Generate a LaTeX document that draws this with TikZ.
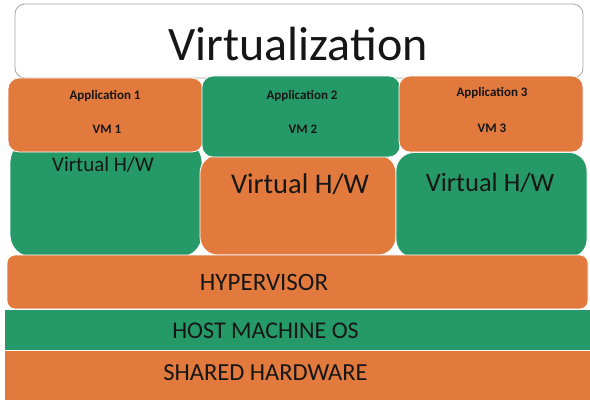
\documentclass[tikz,border=0pt]{standalone}
\usepackage{fontspec}
\setmainfont{Carlito}
\definecolor{vorange}{RGB}{226,122,62}
\definecolor{vgreen}{RGB}{38,153,104}
\definecolor{vtext}{RGB}{22,22,22}
\definecolor{vframe}{RGB}{165,165,165}
\begin{document}
\begin{tikzpicture}[x=1pt,y=-1pt,
  layer/.style={draw=white,line width=0.8pt,inner sep=0pt,outer sep=0pt},
  obox/.style={layer,fill=vorange},
  gbox/.style={layer,fill=vgreen},
  lbl/.style={text=vtext,inner sep=0pt,font=#1},
  lbl/.default=\fontsize{24}{28}\selectfont,
  small/.style={lbl=\fontsize{13}{15}\selectfont\bfseries}
]
\useasboundingbox (0,0) rectangle (590,400);
\fill[white] (0,0) rectangle (590,400);

% title banner
\node[draw=vframe,line width=0.8pt,fill=white,rounded corners=10pt,
      minimum width=568pt,minimum height=74pt] (title) at (299,41) {};
\node[lbl=\fontsize{48}{54}\selectfont] (titletext) at (298,44) {Virtualization};

% virtual hardware of each VM
\node[gbox,rounded corners=22pt,minimum width=192pt,minimum height=117pt] (hw1) at (106,198.5) {};
\node[obox,rounded corners=18pt,minimum width=196pt,minimum height=100pt] (hw2) at (298,205) {};
\node[gbox,rounded corners=18pt,minimum width=191pt,minimum height=105pt] (hw3) at (491.5,205) {};

% applications / VMs
\node[obox,rounded corners=11pt,minimum width=195pt,minimum height=74pt] (vm1) at (105.5,115) {};
\node[gbox,rounded corners=11pt,minimum width=198pt,minimum height=81pt] (vm2) at (301,116.5) {};
\node[obox,rounded corners=11pt,minimum width=184pt,minimum height=76pt] (vm3) at (491,114) {};

% lower layers
\node[obox,rounded corners=8pt,minimum width=581pt,minimum height=54pt] (hyp) at (297.5,282) {};
\node[gbox,minimum width=587pt,minimum height=41pt] (host) at (297.5,329.5) {};
\node[obox,minimum width=587pt,minimum height=50pt] (shared) at (297.5,375) {};

% labels
\node[small] (app1) at (105,96) {Application 1};
\node[small] (vmn1) at (107,129) {VM 1};
\node[small] (app2) at (302,96) {Application 2};
\node[small] (vmn2) at (303,129) {VM 2};
\node[small] (app3) at (492,93) {Application 3};
\node[small] (vmn3) at (492,128) {VM 3};

\node[lbl=\fontsize{21}{25}\selectfont] (hwt1) at (103,165) {Virtual H/W};
\node[lbl=\fontsize{28.5}{32}\selectfont] (hwt2) at (300,184) {Virtual H/W};
\node[lbl=\fontsize{26.5}{30}\selectfont] (hwt3) at (490,183) {Virtual H/W};

\node[lbl=\fontsize{25}{29}\selectfont] (hyptext) at (264,282) {HYPERVISOR};
\node[lbl] (hosttext) at (265.5,331) {HOST MACHINE OS};
\node[lbl=\fontsize{24.5}{28}\selectfont] (sharedtext) at (265.5,373) {SHARED HARDWARE};
\end{tikzpicture}
\end{document}
